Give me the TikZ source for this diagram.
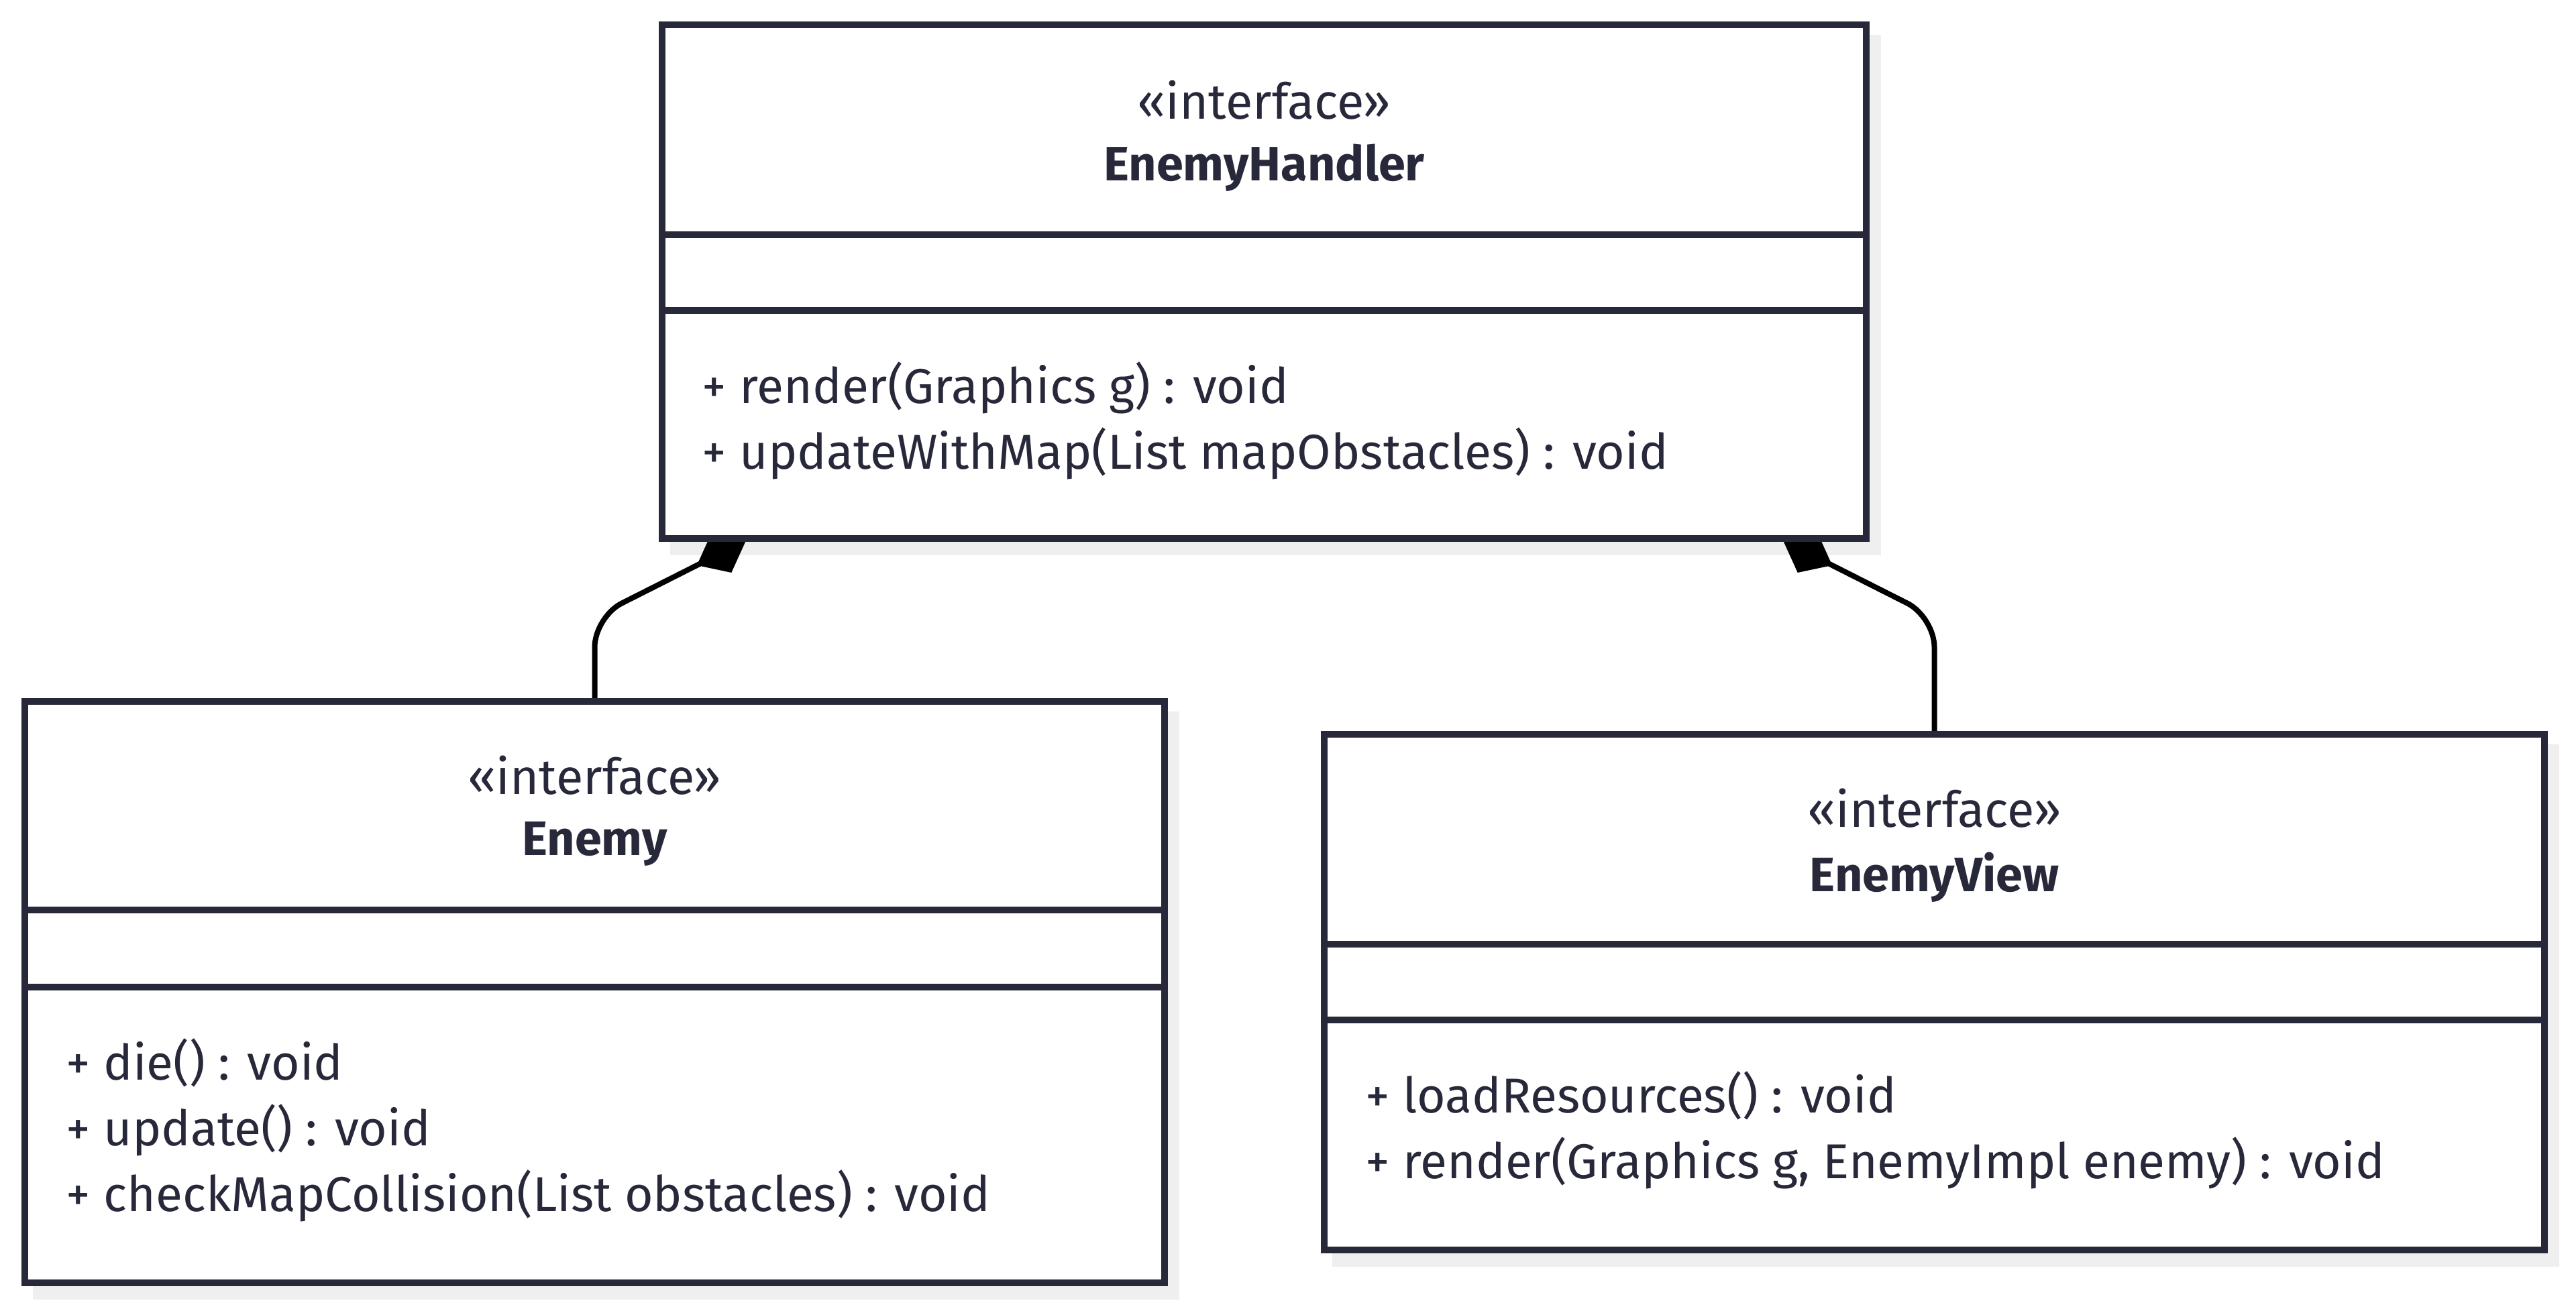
\documentclass[tikz,border=0pt]{standalone}
\usepackage{fontspec}
\setmainfont{Fira Sans}
\usetikzlibrary{positioning}
\usetikzlibrary{arrows.meta}
\usetikzlibrary{backgrounds}
\definecolor{umlink}{HTML}{272839}
\definecolor{umlshadow}{HTML}{EFEFEF}

\begin{document}
\begin{tikzpicture}[
  classbox/.style={draw=umlink, line width=0.1cm, fill=white, inner sep=0pt},
  boxshadow/.style={fill=umlshadow, draw=none},
  stereo/.style={text=umlink, font=\fontsize{21}{25}\selectfont},
  classname/.style={text=umlink, font=\fontsize{20.5}{25}\selectfont\bfseries},
  method/.style={text=umlink, anchor=west, inner sep=0pt, font=\fontsize{20.8}{25}\selectfont},
  divider/.style={umlink, line width=0.1cm},
  composition/.style={black, line width=0.08cm, rounded corners=0.45cm,
    -{Diamond[length=0.82cm, width=0.66cm]}}
]

\useasboundingbox (0,0) rectangle (38.4,-19.57);

% EnemyHandler
{
\node[classbox, minimum width=17.95cm, minimum height=7.66cm] (handler) at (18.845,-4.20) {};

\draw[divider] (handler.west |- 0,-3.50) -- (handler.east |- 0,-3.50);
\draw[divider] (handler.west |- 0,-4.63) -- (handler.east |- 0,-4.63);

\node[stereo] (handlerstereo) at (18.845,-1.49) {«interface»};
\node[classname] (handlername) at (18.845,-2.50) {EnemyHandler};

\node[method] (handlerrender) at (10.46,-5.78) {+ render(Graphics g) : void};
\node[method] (handlerupdate) at (10.46,-6.76) {+ updateWithMap(List mapObstacles) : void};
}

% Enemy
{
\node[classbox, minimum width=16.99cm, minimum height=8.67cm] (enemy) at (8.865,-14.795) {};

\draw[divider] (enemy.west |- 0,-13.57) -- (enemy.east |- 0,-13.57);
\draw[divider] (enemy.west |- 0,-14.72) -- (enemy.east |- 0,-14.72);

\node[stereo] (enemystereo) at (8.865,-11.56) {«interface»};
\node[classname] (enemyname) at (8.865,-12.59) {Enemy};

\node[method] (enemydie) at (0.98,-15.85) {+ die() : void};
\node[method] (enemyupdate) at (0.98,-16.85) {+ update() : void};
\node[method] (enemycheck) at (0.98,-17.83) {+ checkMapCollision(List obstacles) : void};
}

% EnemyView
{
\node[classbox, minimum width=18.19cm, minimum height=7.69cm] (view) at (28.835,-14.795) {};

\draw[divider] (view.west |- 0,-14.08) -- (view.east |- 0,-14.08);
\draw[divider] (view.west |- 0,-15.21) -- (view.east |- 0,-15.21);

\node[stereo] (viewstereo) at (28.835,-12.05) {«interface»};
\node[classname] (viewname) at (28.835,-13.08) {EnemyView};

\node[method] (viewload) at (20.35,-16.34) {+ loadResources() : void};
\node[method] (viewrender) at (20.35,-17.34) {+ render(Graphics g, EnemyImpl enemy) : void};
}

% shadows and compositions
\begin{scope}[on background layer]
\fill[boxshadow] ([shift={(0.17,-0.2)}]handler.south west) rectangle ([shift={(0.17,-0.2)}]handler.north east);
\fill[boxshadow] ([shift={(0.17,-0.2)}]enemy.south west) rectangle ([shift={(0.17,-0.2)}]enemy.north east);
\fill[boxshadow] ([shift={(0.17,-0.2)}]view.south west) rectangle ([shift={(0.17,-0.2)}]view.north east);

\coordinate (handlerleft) at (11.12,-8.06);
\coordinate (handlerright) at (26.58,-8.06);

\draw[composition] (enemy.north) -- (enemy.north |- 0,-9.2) -- (handlerleft);
\draw[composition] (view.north) -- (view.north |- 0,-9.2) -- (handlerright);
\end{scope}

\end{tikzpicture}
\end{document}
